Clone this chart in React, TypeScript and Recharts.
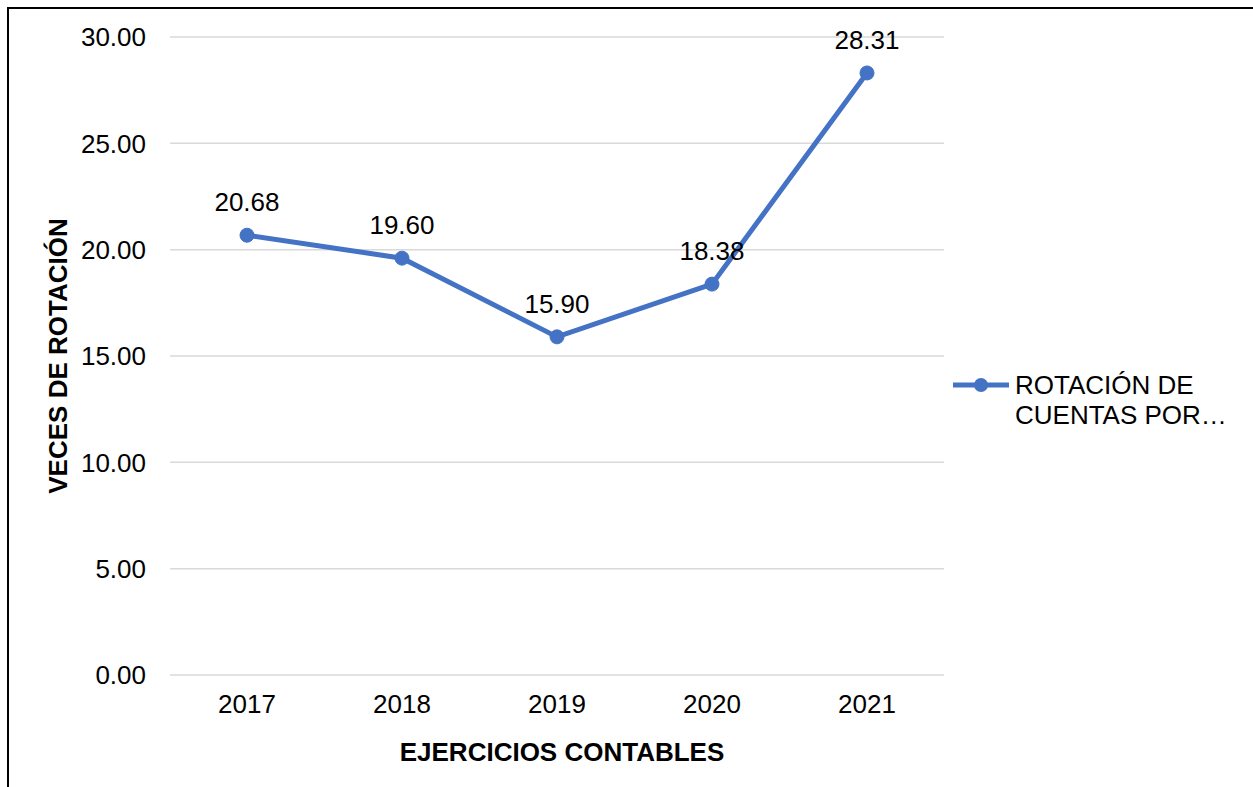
import type { ReactNode } from 'react';
import {
  CartesianGrid,
  Label,
  LabelList,
  Legend,
  Line,
  LineChart,
  XAxis,
  YAxis,
} from 'recharts';

// Rotación de cuentas por cobrar, 2017–2021
const years = ['2017', '2018', '2019', '2020', '2021'];
const rotation = [20.68, 19.6, 15.9, 18.38, 28.31];
const yTicks = [0, 5, 10, 15, 20, 25, 30];

const SERIES_NAME = 'ROTACIÓN DE CUENTAS POR…';
const X_TITLE = 'EJERCICIOS CONTABLES';
const Y_TITLE = 'VECES DE ROTACIÓN';

const BLUE = '#4472C4';
const GRID = '#d9d9d9';
const FONT = '"Liberation Sans", Arial, sans-serif';

const rows = years.map((year, i) => ({ year, value: rotation[i] }));

const fmt2 = (v: unknown) => (typeof v === 'number' ? v.toFixed(2) : String(v ?? ''));

function LegendBox({ payload }: { payload?: { value?: string; type?: string; color?: string }[] }): ReactNode {
  const items = (payload ?? []).filter((p) => p.type !== 'none');
  return (
    <div>
      {items.map((p) => (
        <div key={p.value} style={{ display: 'flex', alignItems: 'flex-start' }}>
          <svg width={56} height={30} style={{ marginRight: 6, flex: 'none' }}>
            <line x1={0} y1={15} x2={56} y2={15} stroke={BLUE} strokeWidth={5} />
            <circle cx={28} cy={15} r={7} fill={BLUE} />
          </svg>
          <div style={{ width: 232, fontSize: 26, lineHeight: '30px', color: '#000' }}>{p.value}</div>
        </div>
      ))}
    </div>
  );
}

export default function App(): ReactNode {
  return (
    <div
      style={{
        position: 'absolute',
        left: 7,
        top: 7,
        width: 1244,
        height: 778,
        borderTop: '2px solid #000',
        borderLeft: '2px solid #000',
        fontFamily: FONT,
        background: '#fff',
      }}
    >
      <LineChart width={1244} height={778} data={rows} margin={{ top: 28, right: 309, bottom: 0, left: 0 }}>
        <CartesianGrid vertical={false} stroke={GRID} strokeWidth={1.5} />
        <XAxis
          dataKey="year"
          axisLine={false}
          tickLine={false}
          tickSize={0}
          tickMargin={20}
          height={112}
          padding={{ left: 77, right: 77 }}
          tick={{ fill: '#000', fontSize: 26 }}
        >
          <Label
            value={X_TITLE}
            position="insideBottom"
            offset={26}
            dx={5}
            style={{ fontWeight: 'bold', fontSize: 26, fill: '#000' }}
          />
        </XAxis>
        <YAxis
          domain={[0, 30]}
          ticks={yTicks}
          axisLine={false}
          tickLine={false}
          tickSize={0}
          tickMargin={24}
          width={161}
          tickFormatter={(v: number) => v.toFixed(2)}
          tick={{ fill: '#000', fontSize: 26 }}
        >
          <Label
            value={Y_TITLE}
            angle={-90}
            position="insideLeft"
            offset={49}
            style={{ textAnchor: 'middle', fontWeight: 'bold', fontSize: 26, fill: '#000' }}
          />
        </YAxis>
        <Legend
          layout="horizontal"
          verticalAlign="middle"
          align="center"
          content={<LegendBox />}
          wrapperStyle={{ position: 'absolute', left: 944, top: 361, width: 300, height: 'auto' }}
        />
        {/* labels first so the line is drawn over them */}
        <Line
          dataKey="value"
          stroke="none"
          dot={false}
          activeDot={false}
          legendType="none"
          isAnimationActive={false}
        >
          <LabelList dataKey="value" position="top" offset={24} formatter={fmt2} fill="#000" fontSize={26} />
        </Line>
        <Line
          dataKey="value"
          name={SERIES_NAME}
          stroke={BLUE}
          strokeWidth={5}
          dot={{ r: 7, fill: BLUE, stroke: BLUE, strokeWidth: 1 }}
          activeDot={false}
          isAnimationActive={false}
        />
      </LineChart>
    </div>
  );
}
